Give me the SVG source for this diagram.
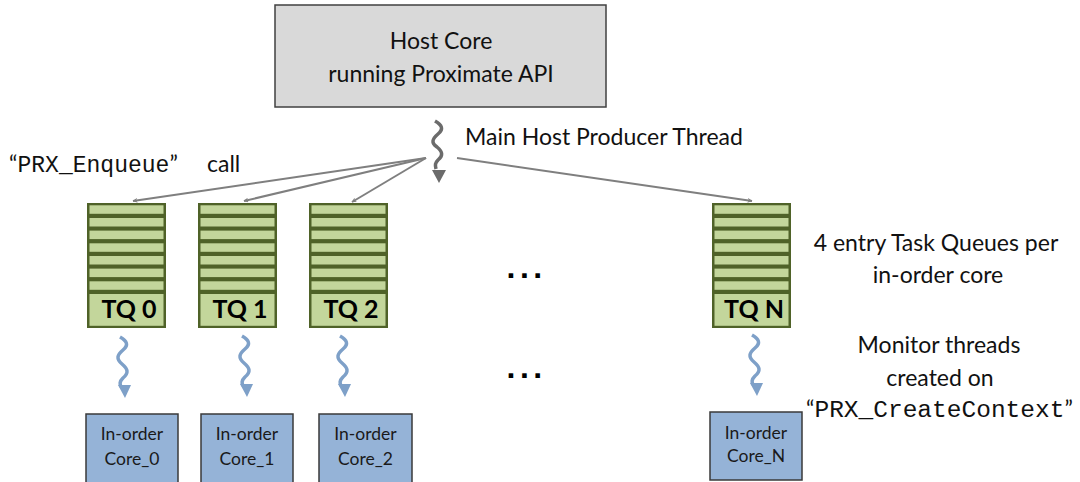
<svg xmlns="http://www.w3.org/2000/svg" xmlns:xlink="http://www.w3.org/1999/xlink" width="1080" height="482" viewBox="0 0 1080 482">
<style>
.t{font-family:Lato,"Open Sans","Liberation Sans",sans-serif;fill:#111;font-size:23px;}
.m{font-family:"Liberation Mono","DejaVu Sans Mono",monospace;}
.tq{font-family:Lato,"Liberation Sans",sans-serif;font-weight:bold;font-size:25px;fill:#000;text-anchor:middle;}
.core{fill:#95b3d7;stroke:#3a3a3a;stroke-width:1.5;}
.ct{font-family:Lato,"Liberation Sans",sans-serif;font-size:17.5px;fill:#1a1a1a;text-anchor:middle;}
.conn{stroke:#7f7f7f;stroke-width:2;fill:none;marker-end:url(#ah);}
.bw{stroke:#7ea0c8;stroke-width:3.5;fill:none;}
.bh{fill:#7ea0c8;}
.gw{stroke:#6b6b6b;stroke-width:3.5;fill:none;}
</style>
<defs>
<marker id="ah" viewBox="0 0 10 10" refX="9" refY="5" markerWidth="5" markerHeight="5" orient="auto" markerUnits="userSpaceOnUse">
<path d="M0,0 L10,5 L0,10 L3,5 z" fill="#7f7f7f"/>
</marker>
<g id="tqshape">
<rect x="0" y="0" width="79" height="125" fill="#4f6228"/>
<g fill="#c3d69b">
<rect x="2.5" y="2.3" width="74" height="8.5"/>
<rect x="2.5" y="15" width="74" height="8.5"/>
<rect x="2.5" y="27.6" width="74" height="8.5"/>
<rect x="2.5" y="40.3" width="74" height="8.5"/>
<rect x="2.5" y="53" width="74" height="8.5"/>
<rect x="2.5" y="65.6" width="74" height="8.5"/>
<rect x="2.5" y="78.3" width="74" height="8.5"/>
<rect x="2.5" y="91" width="74" height="31.8"/>
</g>
</g>
<g id="bsq">
<path class="bw" d="M-5,0 c7,4 9,8 3,13 c-6,5 -7,9 -1,14 c6,5 7,9 1,14 c-4,4 -3,6 -2,9"/>
<path class="bh" d="M-7,48 L6,48 L0,61 z"/>
</g>
</defs>

<g id="host">
<rect x="275" y="5" width="331" height="102" fill="#d9d9d9" stroke="#404040" stroke-width="1.5"/>
<text class="t" x="441" y="49" text-anchor="middle">Host Core</text>
<text class="t" x="441" y="82" text-anchor="middle">running Proximate API</text>
</g>

<g id="main-thread">
<path class="gw" d="M435,121 c7,4 9,8 3,13 c-6,5 -7,9 -1,13 c6,5 6,9 1,13 c-3,3 -3,5 -2,9"/>
<path d="M432,170 L446,170 L439,183 z" fill="#6b6b6b"/>
<text class="t" x="465" y="145">Main Host Producer Thread</text>
</g>

<g id="enqueue-label">
<text class="t" x="9" y="172">“<tspan class="m" font-size="23" textLength="152" lengthAdjust="spacingAndGlyphs">PRX_Enqueue</tspan>”<tspan x="207">call</tspan></text>
</g>

<g id="connectors">
<line class="conn" x1="426" y1="158" x2="133" y2="201"/>
<line class="conn" x1="426" y1="158" x2="244" y2="201"/>
<line class="conn" x1="426" y1="158" x2="352" y2="202"/>
<line class="conn" x1="457" y1="158" x2="752" y2="201"/>
<use xlink:href="#bsq" href="#bsq" transform="translate(125,337)"/>
<use xlink:href="#bsq" href="#bsq" transform="translate(247,336)"/>
<use xlink:href="#bsq" href="#bsq" transform="translate(345,336)"/>
<use xlink:href="#bsq" href="#bsq" transform="translate(757,335)"/>
</g>

<g id="tq0" transform="translate(87,203)">
<use xlink:href="#tqshape" href="#tqshape"/>
<text class="tq" x="42" y="115">TQ 0</text>
</g>
<g id="tq1" transform="translate(198,203)">
<use xlink:href="#tqshape" href="#tqshape"/>
<text class="tq" x="42" y="115">TQ 1</text>
</g>
<g id="tq2" transform="translate(309,203)">
<use xlink:href="#tqshape" href="#tqshape"/>
<text class="tq" x="42" y="115">TQ 2</text>
</g>
<g id="tqN" transform="translate(712,203)">
<use xlink:href="#tqshape" href="#tqshape"/>
<text class="tq" x="42" y="115">TQ N</text>
</g>

<g id="ellipsis">
<text x="506.6" y="278" font-family="Liberation Sans,sans-serif" font-weight="bold" font-size="32" letter-spacing="4.4" fill="#000">...</text>
<text x="506.6" y="378" font-family="Liberation Sans,sans-serif" font-weight="bold" font-size="32" letter-spacing="4.4" fill="#000">...</text>
</g>

<g id="core0">
<rect class="core" x="86" y="414" width="92" height="75"/>
<text class="ct" x="132" y="440">In-order</text>
<text class="ct" x="132" y="465">Core_0</text>
</g>
<g id="core1">
<rect class="core" x="201" y="414" width="92" height="75"/>
<text class="ct" x="247" y="440">In-order</text>
<text class="ct" x="247" y="465">Core_1</text>
</g>
<g id="core2">
<rect class="core" x="319" y="414" width="93" height="75"/>
<text class="ct" x="365.5" y="440">In-order</text>
<text class="ct" x="365.5" y="465">Core_2</text>
</g>
<g id="coreN">
<rect class="core" x="710" y="412" width="92" height="68"/>
<text class="ct" x="756" y="439">In-order</text>
<text class="ct" x="756" y="462">Core_N</text>
</g>

<g id="notes">
<text class="t" x="936" y="251" text-anchor="middle">4 entry Task Queues per</text>
<text class="t" x="938" y="283" text-anchor="middle">in-order core</text>
<text class="t" x="939" y="353" text-anchor="middle">Monitor threads</text>
<text class="t" x="940" y="386" text-anchor="middle">created on</text>
<text class="t" x="806" y="417">“<tspan class="m" font-size="23" textLength="250" lengthAdjust="spacingAndGlyphs">PRX_CreateContext</tspan>”</text>
</g>
</svg>
